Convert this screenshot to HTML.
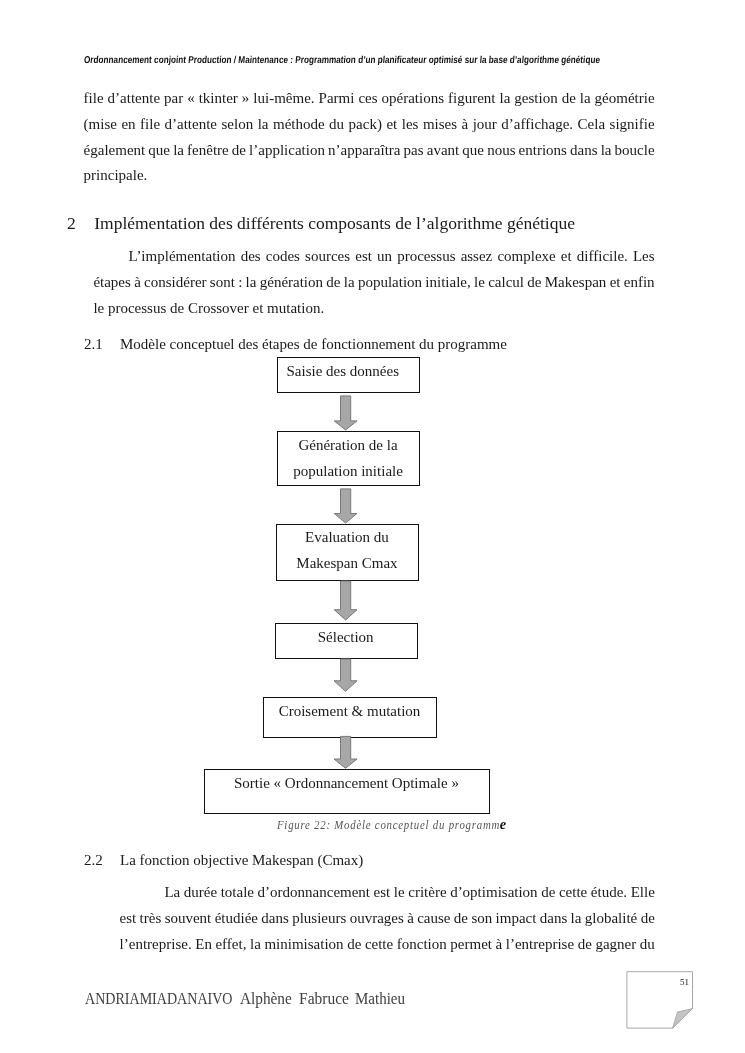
<!DOCTYPE html>
<html lang="fr">
<head>
<meta charset="utf-8">
<title>Ordonnancement conjoint Production / Maintenance</title>
<style>
  html, body { margin: 0; padding: 0; background: #fff; }
  body { width: 745px; height: 1053px; position: relative; overflow: hidden;
         font-family: "Liberation Serif", "DejaVu Serif", serif; color: #1a1a1a; }
  .l { position: absolute; white-space: nowrap; line-height: 20px; font-size: 15px; height: 20px; }
  .j { text-align: justify; text-align-last: justify; white-space: normal; }
  .hdr { font-family: "Liberation Sans", "DejaVu Sans", sans-serif; font-weight: bold;
         font-size: 10px; color: #111; transform-origin: 0 50%; transform: scaleX(0.8196) skewX(-6deg); }
  .h1 { font-size: 17.5px; line-height: 24px; height: 24px; }
  .h2 { font-size: 15px; }
  .box { position: absolute; border: 1px solid #111; box-sizing: border-box; background: #fff; }
  .bt { text-align: center; }
  .cap { font-style: italic; color: #555; font-size: 12.6px; letter-spacing: 0.9px; transform-origin: 0 50%; transform: scaleX(0.858); }
  .ftr { font-size: 16.5px; color: #404040; transform-origin: 0 50%; }
  svg { position: absolute; left: 0; top: 0; }
</style>
</head>
<body>
<div id="page" style="position:absolute; left:0; top:0; width:745px; height:1053px; filter:grayscale(1);">

<!-- header -->
<div class="l hdr" id="hdr" style="left:83.6px; top:50.1px;">Ordonnancement conjoint Production / Maintenance : Programmation d’un planificateur optimisé sur la base d’algorithme génétique</div>

<!-- paragraph 1 -->
<div class="l" style="word-spacing:0.246px; left:83.6px; top:88px;">file d’attente par «&nbsp;tkinter&nbsp;» lui-même. Parmi ces opérations figurent la gestion de la géométrie</div>
<div class="l" style="word-spacing:0.743px; left:83.6px; top:113.8px;">(mise en file d’attente selon la méthode du pack) et les mises à jour d’affichage. Cela signifie</div>
<div class="l" style="word-spacing:-0.626px; left:83.6px; top:139.6px;">également que la fenêtre de l’application n’apparaîtra pas avant que nous entrions dans la boucle</div>
<div class="l" style="left:83.6px; top:165.4px;">principale.</div>

<!-- heading 2 -->
<div class="l h1" style="left:67px; top:211px;">2</div>
<div class="l h1" style="left:94.2px; top:211px;">Implémentation des différents composants de l’algorithme génétique</div>

<!-- paragraph 2 -->
<div class="l" style="word-spacing:1.391px; left:128.6px; top:246px;">L’implémentation des codes sources est un processus assez complexe et difficile. Les</div>
<div class="l" style="word-spacing:-0.459px; left:93.4px; top:272px;">étapes à considérer sont : la génération de la population initiale, le calcul de Makespan et enfin</div>
<div class="l" style="left:93.4px; top:298px;">le processus de Crossover et mutation.</div>

<!-- heading 2.1 -->
<div class="l h2" style="left:84px; top:334px;">2.1</div>
<div class="l h2" style="left:120px; top:334px;">Modèle conceptuel des étapes de fonctionnement du programme</div>

<!-- flowchart -->
<div class="box" style="left:277px; top:357px; width:143px; height:36px;"></div>
<div class="l" style="left:286.5px; top:361px;">Saisie des données</div>

<div class="box" style="left:277px; top:431px; width:143px; height:55px;"></div>
<div class="l bt" style="left:276.9px; width:142.2px; top:435px;">Génération de la</div>
<div class="l bt" style="left:277px; width:142.2px; top:461px;">population initiale</div>

<div class="box" style="left:276px; top:524px; width:143px; height:57px;"></div>
<div class="l bt" style="left:275.9px; width:142.2px; top:526.6px;">Evaluation du</div>
<div class="l bt" style="left:275.9px; width:142.2px; top:552.6px;">Makespan Cmax</div>

<div class="box" style="left:275px; top:623px; width:143px; height:36px;"></div>
<div class="l bt" style="left:274.6px; width:142.2px; top:626.6px;">Sélection</div>

<div class="box" style="left:263px; top:697px; width:174px; height:41px;"></div>
<div class="l bt" style="left:262.9px; width:173.2px; top:700.6px;">Croisement &amp; mutation</div>

<div class="box" style="left:204px; top:769px; width:286px; height:45px;"></div>
<div class="l" style="left:234px; top:772.6px;">Sortie «&nbsp;Ordonnancement Optimale&nbsp;»</div>

<svg width="745" height="1053" viewBox="0 0 745 1053">
  <g fill="#a7a7a7" stroke="#787878" stroke-width="1" stroke-linejoin="miter">
    <path d="M340.5 395.9 H350.7 V420.9 H357.0 L345.6 430.0 L334.2 420.9 H340.5 Z"/>
    <path d="M340.5 488.9 H350.7 V513.5 H357.0 L345.6 523.0 L334.2 513.5 H340.5 Z"/>
    <path d="M340.5 581.0 H350.7 V609.7 H357.0 L345.6 619.9 L334.2 609.7 H340.5 Z"/>
    <path d="M340.5 659.0 H350.7 V680.8 H357.1 L345.5 691.3 L334.0 680.8 H340.5 Z"/>
    <path d="M340.5 736.4 H350.7 V759.0 H357.1 L345.5 768.3 L334.0 759.0 H340.5 Z"/>
  </g>
  <!-- page-number note -->
  <path d="M626.9 971.7 H692.5 V1008.6 L672.6 1028.1 H626.9 Z" fill="#fff" stroke="#a8a8a8" stroke-width="1"/>
  <path d="M692.5 1008.6 L677.5 1012 L672.6 1028.1 Z" fill="#c4c4c4" stroke="#a0a0a0" stroke-width="0.8" stroke-linejoin="round"/>
</svg>

<!-- caption -->
<div class="l cap" id="cap" style="left:277.4px; top:814.6px;">Figure 22: Modèle conceptuel du programm</div>
<div class="l" id="cape" style="left:499.8px; top:813.6px; font-size:14.4px; font-style:italic; font-weight:bold; color:#111;">e</div>

<!-- heading 2.2 -->
<div class="l h2" style="left:84px; top:850px;">2.2</div>
<div class="l h2" style="left:120px; top:850px;">La fonction objective Makespan (Cmax)</div>

<!-- paragraph 3 -->
<div class="l" style="word-spacing:-0.172px; left:164.4px; top:882px;">La durée totale d’ordonnancement est le critère d’optimisation de cette étude. Elle</div>
<div class="l" style="word-spacing:-0.393px; left:119.6px; top:908px;">est très souvent étudiée dans plusieurs ouvrages à cause de son impact dans la globalité de</div>
<div class="l" style="word-spacing:-0.172px; left:119.6px; top:934px;">l’entreprise. En effet, la minimisation de cette fonction permet à l’entreprise de gagner du</div>

<!-- footer -->
<div class="l ftr" style="left:85.3px; top:989.2px; transform:scaleX(0.8514);">ANDRIAMIADANAIVO</div>
<div class="l ftr" style="left:239.7px; top:989.2px; transform:scaleX(0.9266);">Alphène</div>
<div class="l ftr" style="left:298.5px; top:989.2px; transform:scaleX(0.9406);">Fabruce</div>
<div class="l ftr" style="left:354.7px; top:989.2px; transform:scaleX(0.9091);">Mathieu</div>
<div class="l" style="left:680px; top:972px; font-size:9px; color:#111;">51</div>

</div>
</body>
</html>
